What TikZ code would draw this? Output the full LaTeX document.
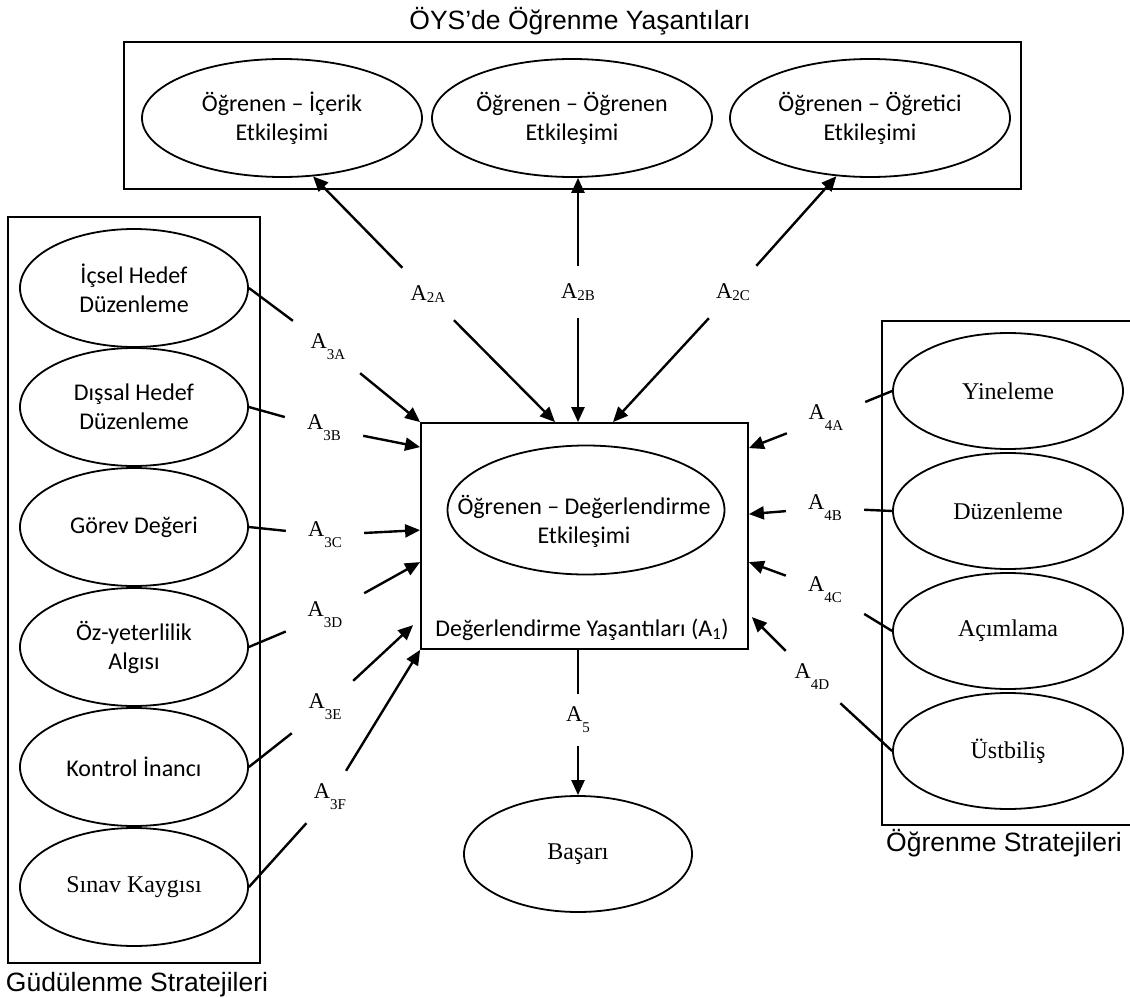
\documentclass[tikz,border=0pt]{standalone}
\usepackage{fontspec}
\setmainfont{Liberation Serif}
\newfontfamily\calibrifont{Carlito}
\newfontfamily\arialfont{Liberation Sans}
\usetikzlibrary{arrows.meta,shapes.geometric}
% path label: A with a lowered index
\newcommand\Alab[2]{A\raisebox{#2}{\fontsize{15}{15}\selectfont #1}}
\begin{document}
\begin{tikzpicture}[x=1pt,y=-1pt,
  oval/.style={ellipse, draw, line width=1.8pt, inner sep=0pt, align=center},
  calfont/.style={font=\calibrifont\fontsize{24}{29}\selectfont},
  timesfont/.style={font=\fontsize{24}{29}\selectfont},
  topoval/.style={oval, calfont, minimum width=280pt, minimum height=118pt},
  leftoval/.style={oval, minimum width=228pt, minimum height=118pt},
  rightoval/.style={oval, timesfont, minimum width=230pt, minimum height=116pt},
  gaplabel/.style={minimum width=78pt, minimum height=52pt, inner sep=0pt,
    font=\fontsize{22.5}{24}\selectfont},
  heading/.style={anchor=base, font=\arialfont\fontsize{26.5}{30}\selectfont},
  conn/.style={line width=2.4pt},
  arr/.style={conn, -{Triangle[length=15pt,width=13pt]}},
  frame/.style={draw, line width=1.2pt}]
\useasboundingbox (0,0) rectangle (1130,998);

% group headings
\node[heading] (titleTop) at (580,30) {ÖYS’de Öğrenme Yaşantıları};
\node[heading] (titleLeft) at (137,991) {Güdülenme Stratejileri};
\node[heading] (titleRight) at (1004,851) {Öğrenme Stratejileri};

% group frames
\draw[line width=1.8pt] (124,42) rectangle (1021,189);
\draw[frame] (8,217) rectangle (260,963);
\draw[frame] (1131,321) -| (882,825) -- (1131,825);

% interactions in the online learning environment
\node[topoval] (E1) at (282,118) {Öğrenen – İçerik\\Etkileşimi};
\node[topoval] (E2) at (572,118) {Öğrenen – Öğrenen\\Etkileşimi};
\node[topoval] (E3) at (870,118) {Öğrenen – Öğretici\\Etkileşimi};

% assessment experiences
\node[draw, line width=1.8pt, minimum width=327pt, minimum height=226pt, inner sep=0pt]
  (box) at (584.5,536) {};
\node[oval, minimum width=277pt, minimum height=129pt] (E0) at (586,510) {};
\node[calfont, align=center, inner sep=0pt] (E0text) at (584,521)
  {Öğrenen – Değerlendirme\\Etkileşimi};
\node[calfont, anchor=base] (boxtitle) at (582,636)
  {Değerlendirme Yaşantıları (A\textsubscript{1})};

% motivation strategies
\node[leftoval, calfont] (Ma) at (134,288) {İçsel Hedef\\Düzenleme};
\node[leftoval, calfont] (Mb) at (134,407) {Dışsal Hedef\\Düzenleme};
\node[leftoval, calfont] (Mc) at (134,527) {Görev Değeri};
\node[leftoval, calfont] (Md) at (134,647) {Öz-yeterlilik\\Algısı};
\node[leftoval, calfont] (Me) at (134,767) {Kontrol İnancı};
\node[leftoval, timesfont] (Mf) at (134,887) {Sınav Kaygısı};

% learning strategies
\node[rightoval] (Sa) at (1008,391) {Yineleme};
\node[rightoval] (Sb) at (1008,511) {Düzenleme};
\node[rightoval] (Sc) at (1008,631) {Açımlama};
\node[rightoval] (Sd) at (1008,751) {Üstbiliş};

% achievement
\node[oval, timesfont, minimum width=228pt, minimum height=116pt] (Bas) at (578,854) {Başarı};

% path labels
\node[gaplabel] (L2A) at (428,294) {\Alab{2A}{-2.7pt}};
\node[gaplabel] (L2B) at (578,292) {\Alab{2B}{-2.7pt}};
\node[gaplabel] (L2C) at (733,292) {\Alab{2C}{-2.7pt}};
\node[gaplabel] (L3A) at (328,347) {\Alab{3A}{-11pt}};
\node[gaplabel] (L3B) at (324,428) {\Alab{3B}{-11pt}};
\node[gaplabel] (L3C) at (325,535) {\Alab{3C}{-11pt}};
\node[gaplabel] (L3D) at (325,615) {\Alab{3D}{-11pt}};
\node[gaplabel] (L3E) at (325,707) {\Alab{3E}{-11pt}};
\node[gaplabel] (L3F) at (330,797) {\Alab{3F}{-11pt}};
\node[gaplabel] (L4A) at (826,418) {\Alab{4A}{-11pt}};
\node[gaplabel] (L4B) at (825,508) {\Alab{4B}{-11pt}};
\node[gaplabel] (L4C) at (825,590) {\Alab{4C}{-11pt}};
\node[gaplabel] (L4D) at (812,677) {\Alab{4D}{-11pt}};
\node[gaplabel] (L5) at (578,720) {\Alab{5}{-11pt}};

% A2: two-way links between the box and the interactions above
\draw[arr] (L2A) -- (E1.-62);
\draw[arr] (L2A) -- ([xshift=-29.5pt]box.north);
\draw[arr] (L2B) -- ([xshift=6pt]E2.south);
\draw[arr] (L2B) -- ([xshift=-6.5pt]box.north);
\draw[arr] (L2C) -- (E3.-120);
\draw[arr] (L2C) -- ([xshift=28.5pt]box.north);

% A3: motivation strategies into the box
\draw[conn] (Ma.east) -- (L3A);
\draw[arr] (L3A) -- (box.north west);
\draw[conn] (Mb.east) -- (L3B);
\draw[arr] (L3B) -- ([yshift=-25pt]box.north west);
\draw[conn] (Mc.east) -- (L3C);
\draw[arr] (L3C) -- ([yshift=-108pt]box.north west);
\draw[conn] (Md.east) -- (L3D);
\draw[arr] (L3D) -- ([yshift=-140pt]box.north west);
\draw[conn] (Me.east) -- (L3E);
\draw[arr] (L3E) -- ([xshift=-7pt,yshift=-203pt]box.north west);
\draw[conn] (Mf.east) -- (L3F);
\draw[arr] (L3F) -- (box.south west);

% A4: learning strategies into the box
\draw[conn] (Sa.west) -- (L4A);
\draw[arr] (L4A) -- ([yshift=-26pt]box.north east);
\draw[conn] (Sb.west) -- (L4B);
\draw[arr] (L4B) -- ([yshift=-92pt]box.north east);
\draw[conn] (Sc.west) -- (L4C);
\draw[arr] (L4C) -- ([yshift=-140pt]box.north east);
\draw[conn] (Sd.west) -- (L4D);
\draw[arr] (L4D) -- ([xshift=3pt,yshift=-195pt]box.north east);

% A5: box to achievement
\draw[conn] ([xshift=-6.5pt]box.south) -- (L5);
\draw[arr] (L5) -- (Bas.north);
\end{tikzpicture}
\end{document}
